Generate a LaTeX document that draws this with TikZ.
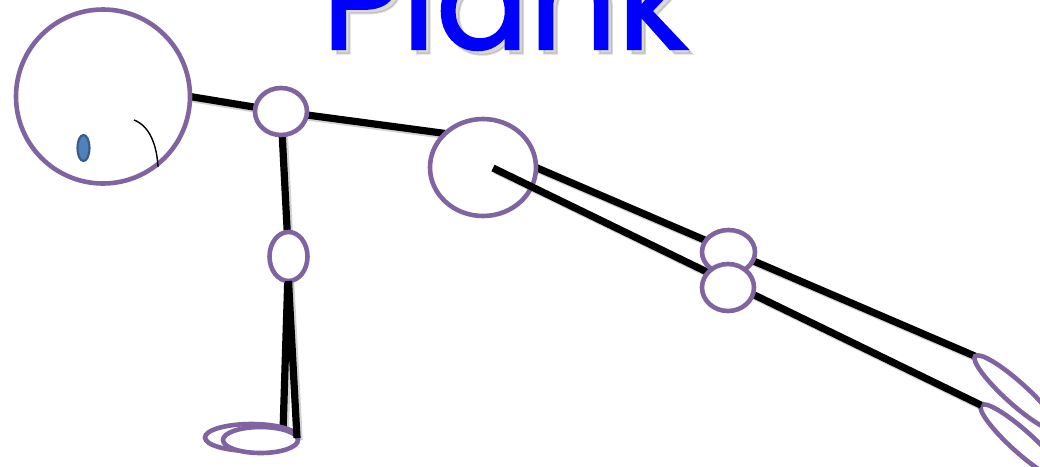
\documentclass[tikz,border=0pt]{standalone}
\usepackage{fontspec}
\newfontfamily\titlefont{Poppins}[FakeBold=1.5]
\usetikzlibrary{shapes.geometric}
\definecolor{limb}{HTML}{8064A2}
\definecolor{eyefill}{HTML}{4F81BD}
\definecolor{eyeedge}{HTML}{385D8A}
\definecolor{titleblue}{RGB}{0,0,255}
\pgfdeclarelayer{bones}
\pgfdeclarelayer{front}
\pgfsetlayers{bones,main,front}
\tikzset{
  joint/.style={ellipse, draw=limb, line width=4.6pt, fill=white, inner sep=0pt, outer sep=0pt},
  hollow/.style={ellipse, draw=limb, line width=4.6pt, inner sep=0pt, outer sep=0pt},
  bone/.style={line width=7.2pt, draw=black,
    preaction={draw=black!70, draw opacity=0.25, line width=7.6pt,
      transform canvas={shift={(2pt,-2pt)}}}},
  titletext/.style={anchor=base west, inner sep=0pt, outer sep=0pt},
}
\newcommand{\plankword}{\resizebox{366pt}{!}{\titlefont Plank}}
\begin{document}
\begin{tikzpicture}[x=1pt,y=-1pt]
\useasboundingbox (0,0) rectangle (1040,466);

% title with a soft drop shadow
\node[titletext, text=black!50, opacity=0.3] (titleshadow) at (326.5,53.5) {\plankword};
\node[titletext, text=titleblue] (title) at (322,49) {\plankword};

% head with eye and ear
\node[joint, minimum width=174pt, minimum height=174pt] (head) at (103,96.5) {};
\node[ellipse, draw=eyeedge, fill=eyefill, line width=2.2pt, inner sep=0pt,
      minimum width=12pt, minimum height=26pt] (eye) at (83.5,148) {};
\draw[line width=1.4pt] (134,120) .. controls (150,126) and (157,146) .. (158,167);

% joints
\node[joint, minimum width=52pt, minimum height=47pt] (shoulder) at (281,111.5) {};
\node[joint, minimum width=38pt, minimum height=49pt] (elbow) at (288.5,256.5) {};
\node[hollow, minimum width=110pt, minimum height=22pt, rotate=-42] (footA) at (1016,393) {};
\node[hollow, minimum width=110pt, minimum height=22pt, rotate=-42] (footB) at (1022,442) {};
\node[joint, minimum width=106pt, minimum height=97pt] (hip) at (483,167.5) {};

% lower leg runs over the hip
\coordinate (legstart) at (493,168);
\draw[bone] (legstart) -- (footB.west);

\node[joint, minimum width=53pt, minimum height=44pt] (kneeA) at (728.5,252) {};
\node[joint, minimum width=52pt, minimum height=47pt] (kneeB) at (728,287.5) {};
\node[joint, minimum width=93pt, minimum height=27pt] (handback) at (251.5,437.5) {};
\node[joint, minimum width=75pt, minimum height=26pt] (handfront) at (260.5,440) {};

% limbs behind the joints
\begin{pgfonlayer}{bones}
  \draw[bone] (head.east) -- (shoulder.center);
  \draw[bone] (shoulder.center) -- (hip.138);
  \draw[bone] (shoulder.center) -- (elbow.center);
  \coordinate (palmL) at (283,432);
  \draw[bone] (elbow.center) -- (palmL);
  \draw[bone] (hip.east) -- (footA.west);
\end{pgfonlayer}

% forearm in front of the hand
\begin{pgfonlayer}{front}
  \coordinate (palmR) at (297,438);
  \draw[bone] (elbow.south) -- (palmR);
\end{pgfonlayer}
\end{tikzpicture}
\end{document}
